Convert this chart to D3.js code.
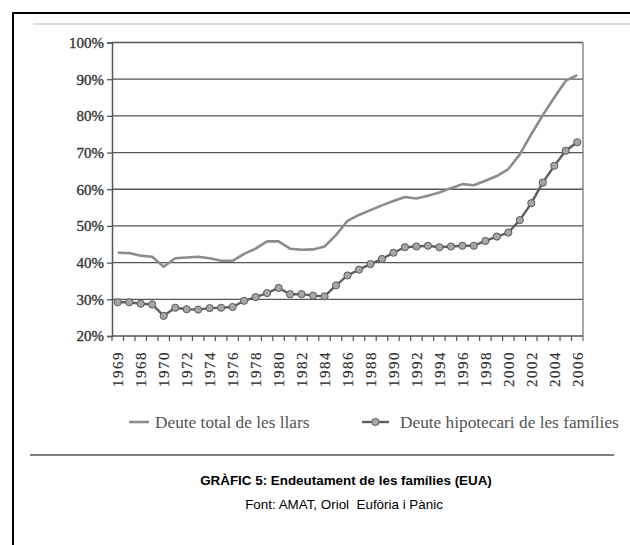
<!DOCTYPE html>
<html>
<head>
<meta charset="utf-8">
<script src="https://cdn.jsdelivr.net/npm/d3@7"></script>
<style>
  body { margin: 0; background: #fff; }
  svg { display: block; }
</style>
</head>
<body>
<div class="chart"></div>
<script>
// years on the category axis (one point per year)
var years = ["1966","1967","1968","1969","1970","1971","1972","1973","1974","1975",
  "1976","1977","1978","1979","1980","1981","1982","1983","1984","1985",
  "1986","1987","1988","1989","1990","1991","1992","1993","1994","1995",
  "1996","1997","1998","1999","2000","2001","2002","2003","2004","2005","2006"];

// labels printed under every second year, as they appear in the scan
var tickLabels = ["1969","1968","1970","1972","1974","1976","1978","1980","1982","1984",
  "1986","1988","1990","1992","1994","1996","1998","2000","2002","2004","2006"];

// Deute total de les llars (%)
var totalDebt = [42.7, 42.6, 41.9, 41.6, 38.9, 41.2, 41.4, 41.6, 41.2, 40.5,
  40.5, 42.4, 43.8, 45.8, 45.8, 43.8, 43.5, 43.6, 44.4, 47.5,
  51.4, 53.0, 54.3, 55.6, 56.8, 57.9, 57.5, 58.2, 59.1, 60.3,
  61.4, 61.1, 62.3, 63.6, 65.5, 69.5, 75.0, 80.2, 85.0, 89.6, 91.1];

// Deute hipotecari de les famílies (%)
var mortgageDebt = [29.2, 29.2, 28.8, 28.6, 25.5, 27.7, 27.3, 27.2, 27.6, 27.7,
  27.9, 29.6, 30.6, 31.7, 33.1, 31.4, 31.4, 31.0, 30.8, 33.8,
  36.5, 38.1, 39.6, 41.0, 42.7, 44.2, 44.4, 44.6, 44.2, 44.4,
  44.6, 44.6, 45.9, 47.1, 48.2, 51.6, 56.2, 61.8, 66.4, 70.5, 72.8];

var yTicks = [20, 30, 40, 50, 60, 70, 80, 90, 100];

var seriesNames = ["Deute total de les llars", "Deute hipotecari de les famílies"];

var svgWidth = 630;
var svgHeight = 545;

var plot = { left: 112, right: 583, top: 42.5, bottom: 336 };

var serif = "'Liberation Serif', 'Times New Roman', serif";
var sans = "Arial, 'Liberation Sans', sans-serif";

var svg = d3.select(".chart")
  .append("svg")
  .attr("width", svgWidth)
  .attr("height", svgHeight);

svg.append("rect")
  .attr("width", svgWidth)
  .attr("height", svgHeight)
  .attr("fill", "#fff");

// outer frame (runs off the right and bottom of the picture)
svg.append("rect")
  .attr("x", 13)
  .attr("y", 13)
  .attr("width", 700)
  .attr("height", 700)
  .attr("fill", "none")
  .attr("stroke", "#000")
  .attr("stroke-width", 2);

// faint scan edge at the top
svg.append("line")
  .attr("x1", 33).attr("x2", 630)
  .attr("y1", 24).attr("y2", 24)
  .attr("stroke", "#b5b5b5")
  .attr("stroke-width", 1);

var xScale = d3.scaleBand()
  .domain(years)
  .range([plot.left, plot.right]);

var yScale = d3.scaleLinear()
  .domain([20, 100])
  .range([plot.bottom, plot.top]);

var chartGroup = svg.append("g");

// horizontal grid lines
chartGroup.selectAll(".grid")
  .data(yTicks.slice(1))
  .enter()
  .append("line")
  .attr("class", "grid")
  .attr("x1", plot.left)
  .attr("x2", plot.right)
  .attr("y1", d => yScale(d))
  .attr("y2", d => yScale(d))
  .attr("stroke", "#555")
  .attr("stroke-width", 1.3);

// right border of the plot
chartGroup.append("line")
  .attr("x1", plot.right).attr("x2", plot.right)
  .attr("y1", plot.top).attr("y2", plot.bottom + 5)
  .attr("stroke", "#777")
  .attr("stroke-width", 1.3);

// y axis
var leftAxis = d3.axisLeft(yScale)
  .tickValues(yTicks)
  .tickSize(5)
  .tickPadding(3)
  .tickFormat(d => d + "%");

var yAxis = chartGroup.append("g")
  .attr("transform", `translate(${plot.left}, 0)`)
  .call(leftAxis);

yAxis.select(".domain").attr("stroke", "#555").attr("stroke-width", 1.5);
yAxis.selectAll(".tick line").attr("stroke", "#555").attr("stroke-width", 1.3);
yAxis.selectAll(".tick text")
  .attr("font-family", serif)
  .attr("font-size", 15)
  .attr("fill", "#333")
  .attr("stroke", "#333")
  .attr("stroke-width", 0.35);

// x axis line and one tick per year boundary
chartGroup.append("line")
  .attr("x1", plot.left).attr("x2", plot.right)
  .attr("y1", plot.bottom).attr("y2", plot.bottom)
  .attr("stroke", "#555")
  .attr("stroke-width", 1.5);

chartGroup.selectAll(".xtick")
  .data(years)
  .enter()
  .append("line")
  .attr("class", "xtick")
  .attr("x1", d => xScale(d))
  .attr("x2", d => xScale(d))
  .attr("y1", plot.bottom)
  .attr("y2", plot.bottom + 5)
  .attr("stroke", "#555")
  .attr("stroke-width", 1.2);

// rotated year labels, every second year
var labelYears = years.filter((d, i) => i % 2 === 0);

chartGroup.selectAll(".xlabel")
  .data(labelYears)
  .enter()
  .append("text")
  .attr("class", "xlabel")
  .attr("transform", d => `translate(${xScale(d) + xScale.bandwidth() / 2}, ${plot.bottom + 15}) rotate(-90)`)
  .attr("dy", "0.35em")
  .attr("text-anchor", "end")
  .attr("font-family", serif)
  .attr("font-size", 15)
  .attr("letter-spacing", 1.5)
  .attr("fill", "#333")
  .attr("stroke", "#333")
  .attr("stroke-width", 0.2)
  .text((d, i) => tickLabels[i]);

// lines
var line = d3.line()
  .x((d, i) => xScale(years[i]) + xScale.bandwidth() / 2)
  .y(d => yScale(d));

chartGroup.append("path")
  .datum(totalDebt)
  .attr("d", line)
  .attr("fill", "none")
  .attr("stroke", "#8c8c8c")
  .attr("stroke-width", 2.6)
  .attr("stroke-linejoin", "round");

chartGroup.append("path")
  .datum(mortgageDebt)
  .attr("d", line)
  .attr("fill", "none")
  .attr("stroke", "#5e5e5e")
  .attr("stroke-width", 2.4)
  .attr("stroke-linejoin", "round");

chartGroup.selectAll(".marker")
  .data(mortgageDebt)
  .enter()
  .append("circle")
  .attr("class", "marker")
  .attr("cx", (d, i) => xScale(years[i]) + xScale.bandwidth() / 2)
  .attr("cy", d => yScale(d))
  .attr("r", 3.6)
  .attr("fill", "#a6a6a6")
  .attr("stroke", "#5a5a5a")
  .attr("stroke-width", 1);

// legend
var legend = svg.append("g")
  .attr("transform", "translate(0, 422)");

legend.append("line")
  .attr("x1", 129).attr("x2", 149)
  .attr("y1", 0).attr("y2", 0)
  .attr("stroke", "#8c8c8c")
  .attr("stroke-width", 2.6);

legend.append("text")
  .attr("x", 155)
  .attr("dy", "0.35em")
  .attr("font-family", serif)
  .attr("font-size", 17.3)
  .attr("fill", "#555")
  .text(seriesNames[0]);

legend.append("line")
  .attr("x1", 362).attr("x2", 389)
  .attr("y1", 0).attr("y2", 0)
  .attr("stroke", "#5e5e5e")
  .attr("stroke-width", 2.4);

legend.append("circle")
  .attr("cx", 375.5)
  .attr("cy", 0)
  .attr("r", 3.6)
  .attr("fill", "#a6a6a6")
  .attr("stroke", "#5a5a5a");

legend.append("text")
  .attr("x", 400)
  .attr("dy", "0.35em")
  .attr("font-family", serif)
  .attr("font-size", 17.3)
  .attr("fill", "#555")
  .text(seriesNames[1]);

// scan edge under the legend
svg.append("line")
  .attr("x1", 30).attr("x2", 614)
  .attr("y1", 455).attr("y2", 455)
  .attr("stroke", "#555")
  .attr("stroke-width", 1.5);

// caption
svg.append("text")
  .attr("x", 346)
  .attr("y", 485)
  .attr("text-anchor", "middle")
  .attr("font-family", sans)
  .attr("font-weight", "bold")
  .attr("font-size", 13.4)
  .attr("fill", "#000")
  .text("GRÀFIC 5: Endeutament de les famílies (EUA)");

svg.append("text")
  .attr("x", 344)
  .attr("y", 509)
  .attr("text-anchor", "middle")
  .attr("font-family", sans)
  .attr("font-size", 13.4)
  .attr("fill", "#000")
  .text("Font: AMAT, Oriol\u00a0 Eufòria i Pànic");
</script>
</body>
</html>
